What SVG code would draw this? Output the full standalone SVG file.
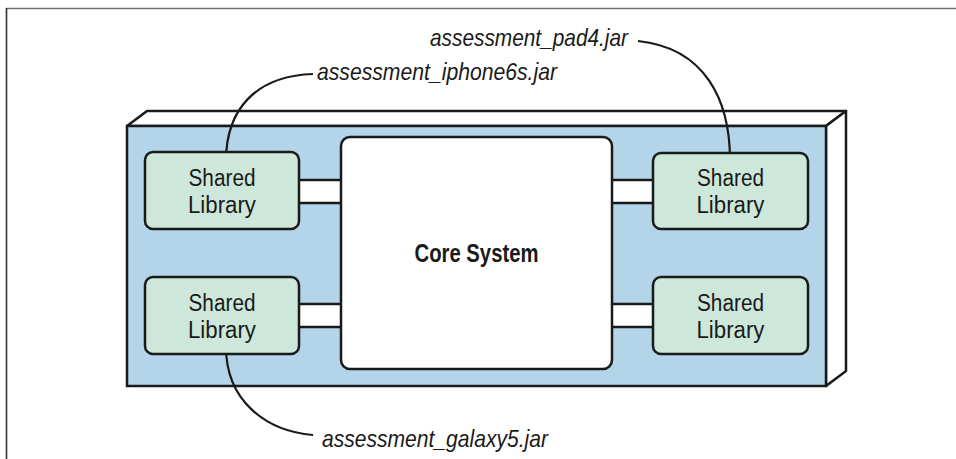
<svg xmlns="http://www.w3.org/2000/svg" width="956" height="459" viewBox="0 0 956 459">
<style>
.frame{fill:#ffffff;stroke:#1a1a1a;stroke-width:2.5;stroke-linejoin:round}
.face{fill:#b3d4e9;stroke:#1a1a1a;stroke-width:2.5}
.lib{fill:#cde8da;stroke:#1a1a1a;stroke-width:2.5}
.core{fill:#ffffff;stroke:#1a1a1a;stroke-width:2.5}
.bar{fill:#ffffff;stroke:none}
.barline{stroke:#1a1a1a;stroke-width:2.5;fill:none}
.callout{stroke:#1a1a1a;stroke-width:2.2;fill:none}
.t{font-family:"Liberation Sans",Arial,sans-serif;font-size:23px;fill:#1a1a1a;text-anchor:middle}
.c{font-family:"Liberation Sans",Arial,sans-serif;font-size:25px;font-weight:bold;fill:#1a1a1a;text-anchor:middle}
.lbl{font-family:"Liberation Sans",Arial,sans-serif;font-size:24px;font-style:italic;fill:#1a1a1a}
</style>
<rect width="956" height="459" fill="#ffffff"/>
<path d="M6,8.5H956" stroke="#707070" stroke-width="1.6" fill="none"/>
<path d="M6.5,8V459" stroke="#333333" stroke-width="1.6" fill="none"/>
<g id="platform">
<polygon class="frame" points="127,126 147,111 846,111 826,126"/>
<polygon class="frame" points="826,126 846,111 846,371 826,386"/>
<rect class="face" x="127" y="126" width="699" height="260"/>
</g>
<g id="connectors">
<rect class="bar" x="299" y="180" width="42" height="23"/>
<path class="barline" d="M299,180H341M299,203H341"/>
<rect class="bar" x="612" y="180" width="41" height="23"/>
<path class="barline" d="M612,180H653M612,203H653"/>
<rect class="bar" x="299" y="304" width="42" height="23"/>
<path class="barline" d="M299,304H341M299,327H341"/>
<rect class="bar" x="612" y="304" width="41" height="23"/>
<path class="barline" d="M612,304H653M612,327H653"/>
<path class="callout" d="M226,161 C226,110 255,76 313,74"/>
<path class="callout" d="M638,41 C705,48 730,100 730,160"/>
<path class="callout" d="M226,347 C226,400 265,431 313,435"/>
</g>
<g id="core">
<rect class="core" x="341" y="137" width="271" height="232" rx="9"/>
<text class="c" x="476.5" y="262" textLength="124" lengthAdjust="spacingAndGlyphs">Core System</text>
</g>
<g id="lib-top-left">
<rect class="lib" x="145" y="152" width="154" height="77" rx="8"/>
<text class="t" x="222" y="186" textLength="67" lengthAdjust="spacingAndGlyphs">Shared</text>
<text class="t" x="222" y="213" textLength="68" lengthAdjust="spacingAndGlyphs">Library</text>
</g>
<g id="lib-top-right">
<rect class="lib" x="653" y="153" width="155" height="76" rx="8"/>
<text class="t" x="730.5" y="186" textLength="67" lengthAdjust="spacingAndGlyphs">Shared</text>
<text class="t" x="730.5" y="213" textLength="68" lengthAdjust="spacingAndGlyphs">Library</text>
</g>
<g id="lib-bottom-left">
<rect class="lib" x="145" y="277" width="154" height="77" rx="8"/>
<text class="t" x="222" y="311" textLength="67" lengthAdjust="spacingAndGlyphs">Shared</text>
<text class="t" x="222" y="338" textLength="68" lengthAdjust="spacingAndGlyphs">Library</text>
</g>
<g id="lib-bottom-right">
<rect class="lib" x="653" y="277" width="155" height="77" rx="8"/>
<text class="t" x="730.5" y="311" textLength="67" lengthAdjust="spacingAndGlyphs">Shared</text>
<text class="t" x="730.5" y="338" textLength="68" lengthAdjust="spacingAndGlyphs">Library</text>
</g>
<g id="labels">
<text class="lbl" x="317" y="80" textLength="240" lengthAdjust="spacingAndGlyphs">assessment_iphone6s.jar</text>
<text class="lbl" x="430" y="46" textLength="198" lengthAdjust="spacingAndGlyphs">assessment_pad4.jar</text>
<text class="lbl" x="322" y="447" textLength="226" lengthAdjust="spacingAndGlyphs">assessment_galaxy5.jar</text>
</g>
</svg>
